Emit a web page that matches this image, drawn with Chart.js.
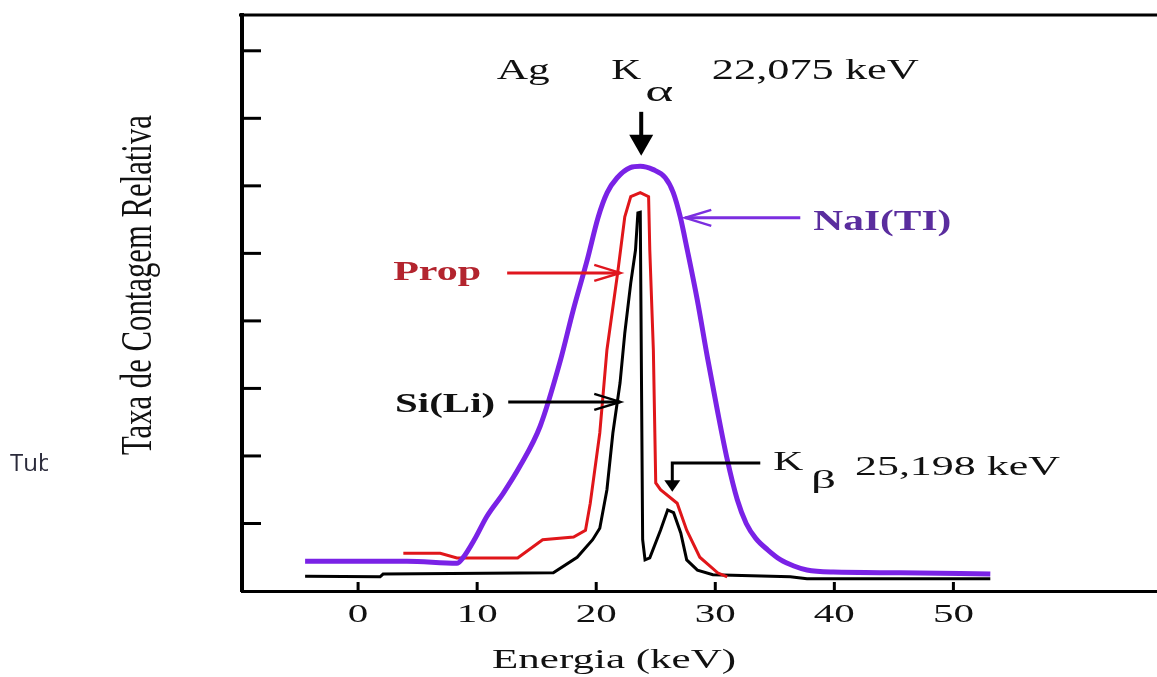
<!DOCTYPE html>
<html>
<head>
<meta charset="utf-8">
<script src="https://cdn.jsdelivr.net/npm/chart.js@4.4.1/dist/chart.umd.min.js"></script>
<style>
  body { margin: 0; background: #fff; }
  #wrap { position: relative; width: 1157px; height: 677px; }
</style>
</head>
<body>
<div id="wrap"><canvas id="spectrum" width="1157" height="677"></canvas></div>
<script>
// energy (keV) and relative count rate
const nalX = [-4.45, 4.1, 8.3, 8.8, 9.8, 10.8, 12.2, 13.6, 15.29, 16.97, 18.07, 19.24, 20.17, 20.92, 21.76, 22.86, 23.7, 24.79, 25.8, 26.47, 27.06, 27.65, 28.49, 29.33, 30.17, 31.0, 31.85, 32.6, 33.4, 34.4, 35.5, 36.6, 37.7, 39.9, 45.5, 53.1];
const nalY = [0.44, 0.44, 0.41, 0.49, 0.77, 1.10, 1.45, 1.85, 2.44, 3.40, 4.16, 4.90, 5.54, 5.90, 6.12, 6.27, 6.29, 6.24, 6.12, 5.90, 5.54, 5.05, 4.31, 3.47, 2.68, 1.95, 1.35, 1.00, 0.78, 0.61, 0.46, 0.37, 0.31, 0.28, 0.27, 0.25];

const propX = [3.8, 6.9, 8.3, 13.4, 15.5, 18.1, 19.1, 19.5, 20.3, 20.9, 21.8, 22.4, 22.9, 23.7, 24.4, 24.5, 24.8, 25.0, 25.4, 26.8, 27.6, 28.7, 30.2, 31.0];
const propY = [0.56, 0.56, 0.49, 0.49, 0.76, 0.80, 0.90, 1.30, 2.34, 3.57, 4.71, 5.54, 5.84, 5.90, 5.84, 5.05, 3.57, 1.60, 1.50, 1.30, 0.90, 0.50, 0.27, 0.21];

const siliX = [-4.45, 1.85, 2.1, 16.4, 18.4, 19.7, 20.3, 20.9, 21.4, 22.0, 22.4, 22.9, 23.3, 23.5, 23.7, 23.9, 24.1, 24.5, 25.4, 26.0, 26.5, 27.1, 27.6, 28.5, 29.8, 36.3, 37.7, 53.1];
const siliY = [0.22, 0.21, 0.25, 0.27, 0.50, 0.76, 0.93, 1.50, 2.34, 3.08, 3.82, 4.56, 5.05, 5.60, 5.61, 0.76, 0.46, 0.49, 0.90, 1.20, 1.16, 0.86, 0.46, 0.31, 0.24, 0.21, 0.18, 0.18];

const xTicks = [0, 10, 20, 30, 40, 50];
const yTicks = [1, 2, 3, 4, 5, 6, 7, 8];

const SERIF = '"Liberation Serif", "Times New Roman", serif';

function toPoints(xs, ys) {
    return xs.map((x, i) => ({ x: x, y: ys[i] }));
}

// text in the scan is stretched sideways, so every label gets a target width
function stretchedText(ctx, text, x, y, size, width, opts) {
    opts = opts || {};
    ctx.save();
    ctx.font = (opts.weight || 'normal') + ' ' + size + 'px ' + SERIF;
    ctx.fillStyle = opts.color || '#111';
    ctx.textAlign = 'center';
    ctx.textBaseline = opts.baseline || 'alphabetic';
    const w = ctx.measureText(text).width;
    ctx.translate(x, y);
    if (opts.rotate) ctx.rotate(opts.rotate);
    ctx.scale(width / w, opts.sy || 1);
    ctx.fillText(text, 0, 0);
    ctx.restore();
}

function openArrow(ctx, x1, y1, x2, y2, color) {
    const ang = Math.atan2(y2 - y1, x2 - x1);
    ctx.save();
    ctx.strokeStyle = color;
    ctx.lineWidth = 3;
    ctx.beginPath();
    ctx.moveTo(x1, y1);
    ctx.lineTo(x2, y2);
    ctx.stroke();
    ctx.lineWidth = 2.5;
    ctx.beginPath();
    ctx.moveTo(x2 - 26 * Math.cos(ang) + 8 * Math.sin(ang), y2 - 26 * Math.sin(ang) - 8 * Math.cos(ang));
    ctx.lineTo(x2, y2);
    ctx.lineTo(x2 - 26 * Math.cos(ang) - 8 * Math.sin(ang), y2 - 26 * Math.sin(ang) + 8 * Math.cos(ang));
    ctx.stroke();
    ctx.restore();
}

function downHead(ctx, x, yTop, yTip, half) {
    ctx.beginPath();
    ctx.moveTo(x - half, yTop);
    ctx.lineTo(x + half, yTop);
    ctx.lineTo(x, yTip);
    ctx.closePath();
    ctx.fill();
}

// labels placed in data units (keV, count rate)
const notes = [
    { text: 'Ag', x: 13.87, y: 7.585, size: 30, width: 53 },
    { text: 'K', x: 22.52, y: 7.585, size: 30, width: 30 },
    { text: 'α', x: 25.29, y: 7.26, size: 30, width: 28 },
    { text: '22,075 keV', x: 38.40, y: 7.585, size: 30, width: 207 },
    { text: 'NaI(TI)', x: 44.03, y: 5.348, size: 30, width: 138, weight: 'bold', color: '#5a2d9e' },
    { text: 'Prop', x: 6.64, y: 4.607, size: 28, width: 88, weight: 'bold', color: '#b3242e' },
    { text: 'Si(Li)', x: 7.31, y: 2.652, size: 28, width: 100, weight: 'bold' },
    { text: 'K', x: 36.13, y: 1.793, size: 28, width: 30 },
    { text: 'β', x: 39.08, y: 1.52, size: 26, width: 25 },
    { text: '25,198 keV', x: 50.34, y: 1.719, size: 28, width: 205 }
];

const decorations = {
    id: 'decorations',
    afterDraw(chart) {
        const ctx = chart.ctx;
        const area = chart.chartArea;
        const xs = chart.scales.x;
        const ys = chart.scales.y;
        const px = v => xs.getPixelForValue(v);
        const py = v => ys.getPixelForValue(v);

        ctx.save();
        // top frame line
        ctx.strokeStyle = '#000';
        ctx.lineWidth = 3;
        ctx.beginPath();
        ctx.moveTo(area.left - 3, area.top);
        ctx.lineTo(area.right, area.top);
        ctx.stroke();

        // inward tick marks
        ctx.lineWidth = 3;
        yTicks.forEach(v => {
            ctx.beginPath();
            ctx.moveTo(area.left, py(v));
            ctx.lineTo(area.left + 19, py(v));
            ctx.stroke();
        });
        xTicks.forEach(v => {
            ctx.beginPath();
            ctx.moveTo(px(v), area.bottom);
            ctx.lineTo(px(v), area.bottom - 9);
            ctx.stroke();
        });

        // tick labels
        xTicks.forEach(v => {
            const s = String(v);
            stretchedText(ctx, s, px(v), area.bottom + 31, 25, s.length * 20.5);
        });

        // axis titles
        stretchedText(ctx, 'Energia (keV)', px(21.5), area.bottom + 77, 28, 244);
        stretchedText(ctx, 'Taxa de Contagem Relativa', area.left - 102, py(4.53), 30, 340,
            { rotate: -Math.PI / 2, baseline: 'middle', sy: 1.45 });

        notes.forEach(n => {
            stretchedText(ctx, n.text, px(n.x), py(n.y), n.size, n.width, n);
        });

        // pointer arrows
        openArrow(ctx, px(37.14), py(5.526), px(27.48), py(5.526), '#7b2ee0');
        openArrow(ctx, px(12.52), py(4.711), px(22.02), py(4.711), '#e0161e');
        openArrow(ctx, px(12.61), py(2.80), px(22.02), py(2.80), '#000');

        // K alpha arrow
        ctx.fillStyle = '#000';
        ctx.lineWidth = 4;
        ctx.beginPath();
        ctx.moveTo(px(23.78), py(7.096));
        ctx.lineTo(px(23.78), py(6.74));
        ctx.stroke();
        downHead(ctx, px(23.78), py(6.756), py(6.444), 12);

        // K beta pointer
        ctx.lineWidth = 3;
        ctx.beginPath();
        ctx.moveTo(px(33.78), py(1.896));
        ctx.lineTo(px(26.39), py(1.896));
        ctx.lineTo(px(26.39), py(1.62));
        ctx.stroke();
        downHead(ctx, px(26.39), py(1.64), py(1.47), 8);

        // fragment of a caption cut off at the left edge
        ctx.save();
        ctx.beginPath();
        ctx.rect(0, 440, 48, 40);
        ctx.clip();
        ctx.font = '24px "Open Sans", sans-serif';
        ctx.fillStyle = '#2a2a3a';
        ctx.textAlign = 'left';
        ctx.fillText('Tub', 10, 471);
        ctx.restore();

        ctx.restore();
    }
};

new Chart(document.getElementById('spectrum'), {
    type: 'line',
    data: {
        datasets: [
            {
                label: 'NaI(TI)',
                data: toPoints(nalX, nalY),
                borderColor: '#7a22e6',
                borderWidth: 5,
                cubicInterpolationMode: 'monotone',
                pointRadius: 0
            },
            {
                label: 'Prop',
                data: toPoints(propX, propY),
                borderColor: '#e0161a',
                borderWidth: 3,
                tension: 0,
                pointRadius: 0
            },
            {
                label: 'Si(Li)',
                data: toPoints(siliX, siliY),
                borderColor: '#000',
                borderWidth: 3,
                tension: 0,
                pointRadius: 0
            }
        ]
    },
    options: {
        responsive: false,
        animation: false,
        layout: { padding: { top: 15, right: 0, left: 0, bottom: 0 } },
        plugins: {
            legend: { display: false },
            tooltip: { enabled: false }
        },
        scales: {
            x: {
                type: 'linear',
                min: -9.75,
                max: 67.1,
                grid: { display: false },
                border: { display: true, color: '#000', width: 3 },
                ticks: { display: false },
                afterBuildTicks: scale => { scale.ticks = xTicks.map(v => ({ value: v })); },
                afterFit: scale => { scale.height = 86; }
            },
            y: {
                type: 'linear',
                min: 0,
                max: 8.53,
                grid: { display: false },
                border: { display: true, color: '#000', width: 4 },
                ticks: { display: false },
                afterBuildTicks: scale => { scale.ticks = yTicks.map(v => ({ value: v })); },
                afterFit: scale => { scale.width = 242; }
            }
        }
    },
    plugins: [decorations]
});
</script>
</body>
</html>
